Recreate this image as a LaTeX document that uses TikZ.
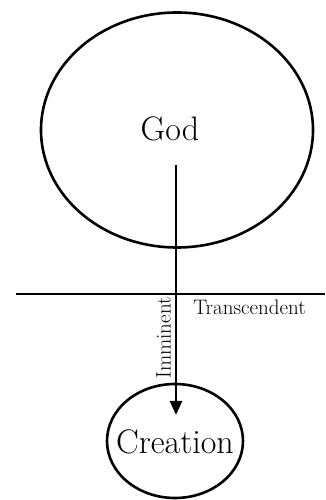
\documentclass[tikz,border=0pt]{standalone}
\usepackage{tikz}
\usetikzlibrary{calc,positioning,arrows.meta,shapes.geometric}
\tikzset{
  wire/.style={line width=2.6pt},
  orb/.style={draw, ellipse, line width=2.6pt, inner sep=0pt},
  bigtext/.style={font=\fontsize{34}{37}\selectfont},
  tag/.style={font=\fontsize{21}{23}\selectfont, inner sep=0pt}
}
\begin{document}
\begin{tikzpicture}[x=1pt,y=1pt]
  \useasboundingbox (0,0) rectangle (325,500);
  % circles
  \node[orb, minimum width=272, minimum height=235] (god) at (177,370) {};
  \node[bigtext] (godtext) at (170,371) {God};
  \node[orb, minimum width=136, minimum height=114] (creation) at (175,59) {};
  \node[bigtext] (creationtext) at (175,58) {Creation};
  % divider
  \coordinate (left) at (16,206);
  \coordinate (right) at (325,206);
  \draw[wire] (left) -- (right);
  % descent
  \coordinate (top) at (176,335);
  \coordinate (tip) at (176,85);
  \draw[wire, -{Stealth[length=14pt, width=12pt, inset=0pt]}] (top) -- (tip);
  % labels
  \node[tag] (transcendent) at (249.5,193) {Transcendent};
  \node[tag, rotate=90] (imminent) at (163.5,162) {Imminent};
\end{tikzpicture}
\end{document}
